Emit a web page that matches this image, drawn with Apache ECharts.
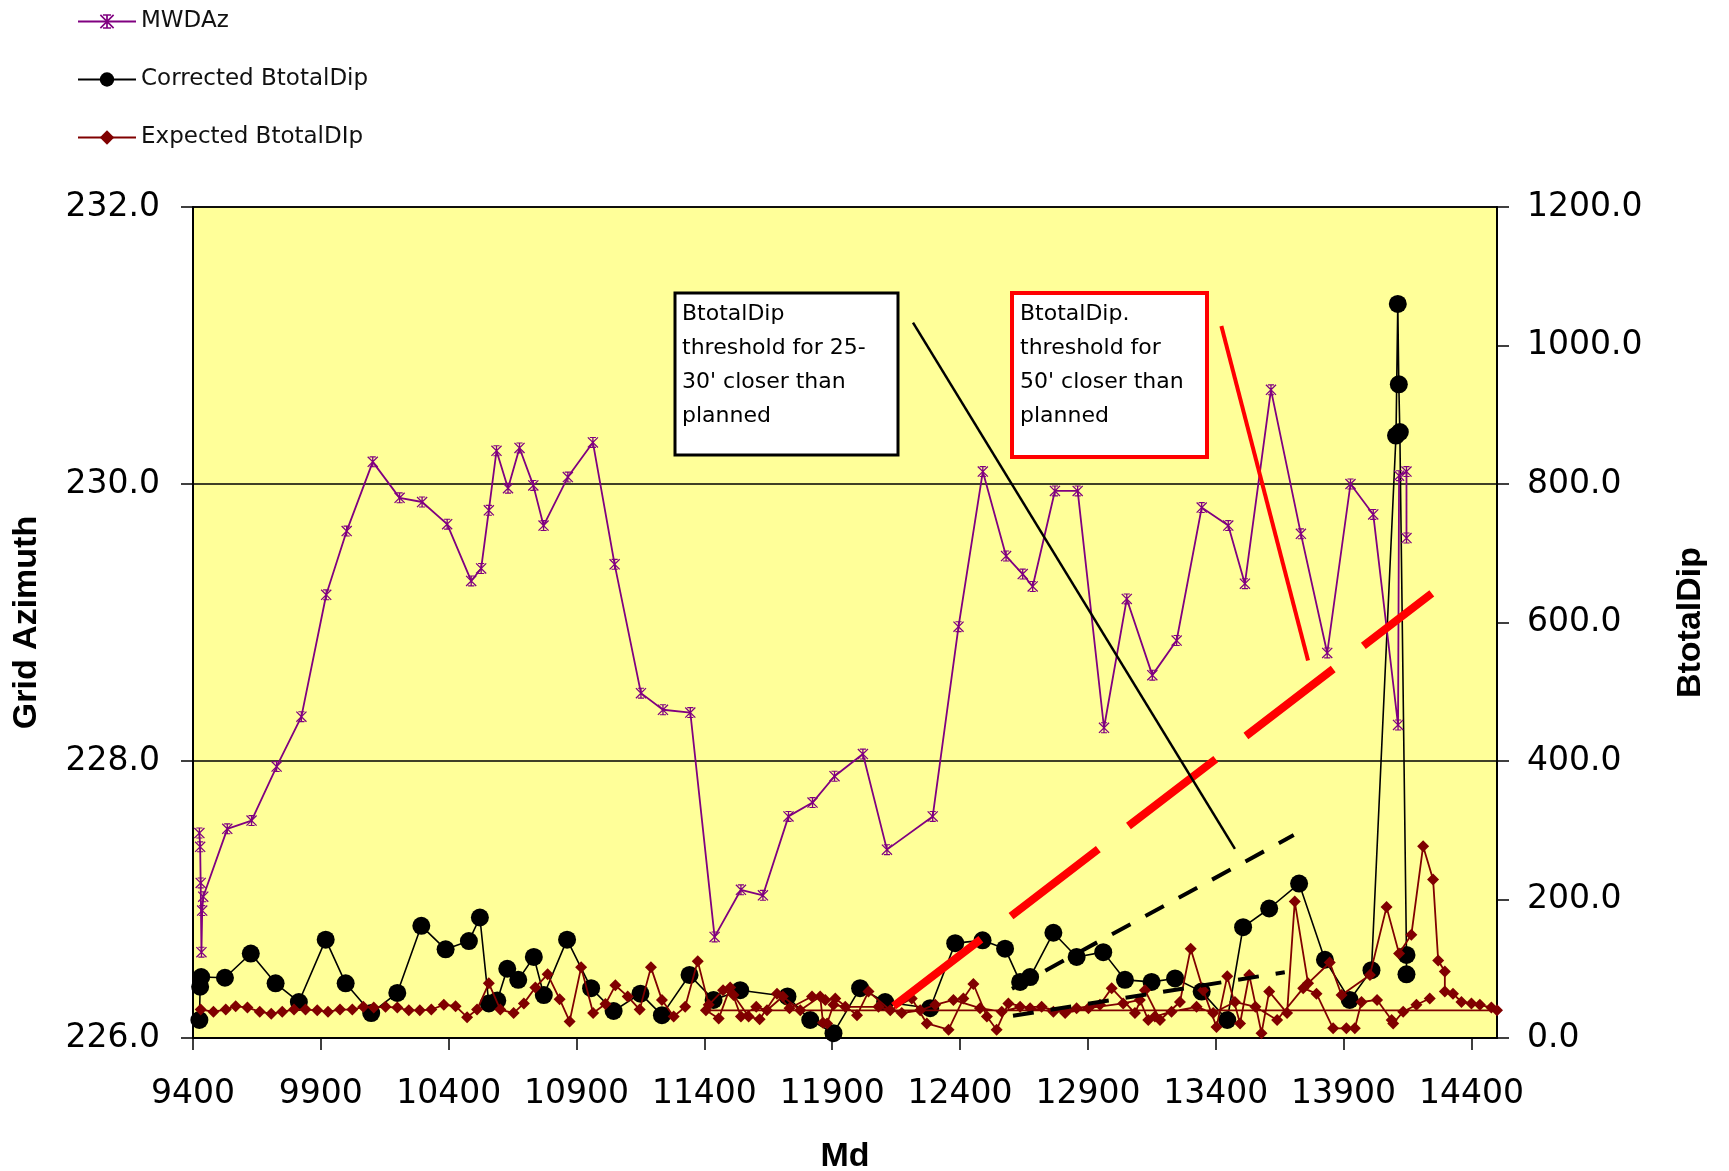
<!DOCTYPE html>
<html>
<head>
<meta charset="utf-8">
<script src="https://cdn.jsdelivr.net/npm/echarts@6/dist/echarts.min.js"></script>
<style>
html,body{margin:0;padding:0;background:#fff;}
#chart{width:1729px;height:1171px;}
</style>
</head>
<body>
<div id="chart"></div>
<script>
// ---- Data ----
const tickMd = [9400, 9900, 10400, 10900, 11400, 11900, 12400, 12900, 13400, 13900, 14400];

const mwdMd = [9425, 9428, 9430, 9433, 9436, 9440, 9534, 9629, 9727, 9824, 9921, 10001, 10103, 10208, 10296, 10394, 10488, 10527, 10557, 10587, 10632, 10677, 10731, 10771, 10866, 10964, 11049, 11152, 11238, 11345, 11440, 11543, 11629, 11729, 11823, 11909, 12020, 12114, 12293, 12394, 12489, 12580, 12645, 12684, 12771, 12860, 12963, 13052, 13152, 13247, 13345, 13449, 13514, 13616, 13733, 13836, 13927, 14016, 14113, 14117, 14146, 14146];
const mwdAz = [227.48, 227.38, 227.12, 226.62, 226.92, 227.02, 227.51, 227.57, 227.96, 228.32, 229.20, 229.66, 230.16, 229.90, 229.87, 229.71, 229.30, 229.39, 229.81, 230.24, 229.97, 230.26, 229.99, 229.70, 230.05, 230.30, 229.42, 228.49, 228.37, 228.35, 226.73, 227.07, 227.03, 227.60, 227.70, 227.89, 228.05, 227.36, 227.60, 228.97, 230.09, 229.48, 229.35, 229.26, 229.95, 229.95, 228.24, 229.17, 228.62, 228.87, 229.83, 229.70, 229.28, 230.68, 229.64, 228.78, 230.00, 229.78, 228.26, 230.06, 230.09, 229.61];

const corrMd = [9425, 9428, 9432, 9525, 9626, 9723, 9814, 9919, 9997, 10097, 10199, 10293, 10388, 10479, 10522, 10557, 10590, 10629, 10672, 10733, 10772, 10863, 10957, 11045, 11150, 11234, 11342, 11436, 11540, 11725, 11814, 11905, 12009, 12107, 12283, 12381, 12488, 12576, 12635, 12674, 12765, 12856, 12960, 13045, 13149, 13241, 13345, 13445, 13507, 13609, 13726, 13827, 13924, 14009, 14105, 14112, 14116, 14120, 14146, 14146];
const corrDip = [26, 74, 88, 87, 122, 79, 52, 142, 79, 36, 65, 162, 128, 140, 174, 50, 54, 100, 84, 117, 62, 142, 72, 39, 64, 33, 91, 55, 69, 60, 26, 7, 72, 52, 43, 137, 141, 129, 81, 88, 152, 117, 124, 84, 81, 86, 67, 26, 160, 187, 223, 113, 55, 98, 870, 1060, 944, 875, 120, 92];

const expMd = [9430, 9480, 9528, 9567, 9613, 9661, 9706, 9749, 9795, 9840, 9886, 9928, 9975, 10023, 10066, 10107, 10153, 10199, 10244, 10287, 10332, 10381, 10427, 10472, 10511, 10557, 10602, 10654, 10694, 10739, 10787, 10834, 10873, 10918, 10965, 11013, 11052, 11100, 11147, 11191, 11234, 11280, 11325, 11374, 11417,
  11473, 11514, 11573, 11616, 11684, 11733, 11821, 11873, 11912, 11997, 12042, 12127, 12211, 12270, 12355, 12413, 12452, 12505, 12543, 12589, 12674, 12765, 12856, 12947, 12993, 13084, 13123, 13182, 13260, 13302, 13351, 13403, 13445, 13495, 13531, 13579, 13609, 13679, 13709, 13761, 13846, 13892, 14003, 14068, 14117, 14165, 14211, 14250, 14270, 14296, 14296, 14328, 14361, 14400, 14433, 14478, 14500,
  11406, 11456, 11501, 11543, 11603, 11645, 11707, 11775, 11853, 11864, 11880, 11905, 11951, 12081, 12172, 12244, 12303, 12374, 12478, 12563, 12635, 12719, 12811, 12902, 13038, 13103, 13136, 13162, 13227, 13325, 13390, 13475, 13555, 13640, 13742, 13794, 13859, 13911, 13944, 13970, 14031, 14088, 14094, 14133, 14185, 14237];
const expDip = [41, 38, 41, 46, 44, 38, 35, 38, 41, 41, 40, 38, 41, 41, 45, 44, 45, 44, 40, 40, 41, 48, 46, 30, 41, 79, 41, 36, 50, 73, 92, 56, 24, 102, 36, 49, 76, 60, 41, 102, 55, 31, 45, 111, 48,
  69, 62, 31, 27, 64, 43, 60, 55, 57, 33, 67, 40, 57, 21, 12, 57, 78, 31, 12, 50, 43, 38, 43, 48, 72, 36, 69, 26, 52, 129, 69, 16, 89, 21, 91, 7, 67, 36, 197, 79, 109, 62, 91, 189, 122, 149, 277, 229, 112, 96, 67, 64, 52, 50, 48, 44, 40,
  40, 28, 73, 31, 45, 40, 60, 40, 60, 22, 21, 48, 45, 45, 36, 40, 48, 55, 43, 38, 45, 45, 36, 43, 50, 55, 26, 31, 38, 45, 36, 52, 45, 26, 72, 64, 14, 14, 14, 52, 55, 26, 21, 38, 48, 57];

// annotation lines (Md, BtotalDip)
const redDashLine = [[12140, 46], [14245, 642]];
const blackDashUpper = [[12603, 71], [13705, 293]];
const blackDashLower = [[12607, 32], [13670, 95]];
const blackPointer = [[12216, 1033], [13475, 273]];
const redPointer = [[13422, 1028], [13761, 545]];

const zip = (a, b) => a.map((v, i) => [v, b[i]]);
const pair = (p, style) => [{coord: p[0], lineStyle: style}, {coord: p[1]}];

const asterisk = 'path://M4.4,0H5.6V10H4.4Z M0.8,0L10,9.2L9.2,10L0,0.8Z M9.2,0L10,0.8L0.8,10L0,9.2Z M2.2,0H7.8V1H2.2Z M2.2,9H7.8V10H2.2Z';

const tickFont = {fontFamily: 'DejaVu Sans', fontSize: 33, color: '#000'};
const titleFont = {fontFamily: "'Liberation Sans Narrow', 'Liberation Sans', sans-serif", fontSize: 34, fontWeight: 'bold', color: '#000'};

const chart = echarts.init(document.getElementById('chart'), null, {renderer: 'canvas'});
chart.setOption({
  animation: false,
  backgroundColor: '#fff',
  grid: {left: 193, right: 232, top: 207, bottom: 133, containLabel: false, outerBoundsMode: 'none',
    show: true, backgroundColor: '#FFFF99', borderColor: '#000', borderWidth: 1.5},
  legend: {
    orient: 'vertical', left: 77, top: 10, padding: 0, itemWidth: 58, itemHeight: 18, itemGap: 35,
    textStyle: {fontFamily: 'DejaVu Sans', fontSize: 23, color: '#111'},
    data: ['MWDAz', 'Corrected BtotalDip', 'Expected BtotalDIp']
  },
  xAxis: {
    type: 'value', min: 9400, max: 14500,
    name: 'Md', nameLocation: 'middle', nameGap: 102, nameMoveOverlap: false, nameTextStyle: titleFont,
    axisLine: {lineStyle: {color: '#000', width: 2}},
    axisTick: {customValues: tickMd, length: 12, lineStyle: {color: '#000', width: 1.5}},
    axisLabel: Object.assign({customValues: tickMd, margin: 40, formatter: v => String(v)}, tickFont),
    splitLine: {show: false}
  },
  yAxis: [{
    type: 'value', min: 226, max: 232, interval: 2, position: 'left',
    name: 'Grid Azimuth', nameLocation: 'middle', nameGap: 149, nameRotate: 90, nameMoveOverlap: false, nameTextStyle: titleFont,
    axisLine: {show: true, lineStyle: {color: '#000', width: 2}},
    axisTick: {show: true, length: 12, lineStyle: {color: '#000', width: 1.5}},
    axisLabel: Object.assign({margin: 33, formatter: v => v.toFixed(1)}, tickFont),
    splitLine: {show: true, lineStyle: {color: '#000', width: 1.5}}
  }, {
    type: 'value', min: 0, max: 1200, interval: 200, position: 'right',
    name: 'BtotalDip', nameLocation: 'middle', nameGap: 177, nameRotate: 90, nameMoveOverlap: false, nameTextStyle: titleFont,
    axisLine: {show: true, lineStyle: {color: '#000', width: 2}},
    axisTick: {show: true, length: 12, lineStyle: {color: '#000', width: 1.5}},
    axisLabel: Object.assign({margin: 30, formatter: v => v.toFixed(1)}, tickFont),
    splitLine: {show: false}
  }],
  series: [{
    name: 'MWDAz', type: 'line', yAxisIndex: 0, z: 4,
    data: zip(mwdMd, mwdAz),
    symbol: asterisk, symbolSize: 11,
    itemStyle: {color: '#800080'}, lineStyle: {color: '#800080', width: 1.8}
  }, {
    name: 'Corrected BtotalDip', type: 'line', yAxisIndex: 1, z: 2,
    data: zip(corrMd, corrDip),
    symbol: 'circle', symbolSize: 18,
    itemStyle: {color: '#000'}, lineStyle: {color: '#000', width: 1.6}
  }, {
    name: 'Expected BtotalDIp', type: 'line', yAxisIndex: 1, z: 3,
    data: zip(expMd, expDip),
    symbol: 'diamond', symbolSize: 12,
    itemStyle: {color: '#800000'}, lineStyle: {color: '#800000', width: 1.8}
  }, {
    name: 'annotations', type: 'line', yAxisIndex: 1, z: 6, data: [],
    markLine: {
      silent: true, symbol: ['none', 'none'], label: {show: false}, animation: false,
      data: [
        pair(redDashLine, {color: '#FF0000', width: 8, type: [110, 38]}),
        pair(blackDashUpper, {color: '#000', width: 4, type: [21, 17]}),
        pair(blackDashLower, {color: '#000', width: 4, type: [21, 17]}),
        pair(blackPointer, {color: '#000', width: 2.5, type: 'solid'}),
        pair(redPointer, {color: '#FF0000', width: 4, type: 'solid'})
      ]
    }
  }],
  graphic: [
    {type: 'rect', z: 100, shape: {x: 675, y: 293, width: 223, height: 162}, style: {fill: '#fff', stroke: '#000', lineWidth: 3}},
    {type: 'text', z: 101, x: 682, y: 297, style: {text: "BtotalDip\nthreshold for 25-\n30' closer than\nplanned", font: '22px "DejaVu Sans"', fill: '#000', lineHeight: 34, verticalAlign: 'top'}},
    {type: 'rect', z: 100, shape: {x: 1012, y: 293, width: 195, height: 164}, style: {fill: '#fff', stroke: '#FF0000', lineWidth: 4}},
    {type: 'text', z: 101, x: 1020, y: 297, style: {text: "BtotalDip.\nthreshold for\n50' closer than\nplanned", font: '22px "DejaVu Sans"', fill: '#000', lineHeight: 34, verticalAlign: 'top'}}
  ]
});
</script>
</body>
</html>
